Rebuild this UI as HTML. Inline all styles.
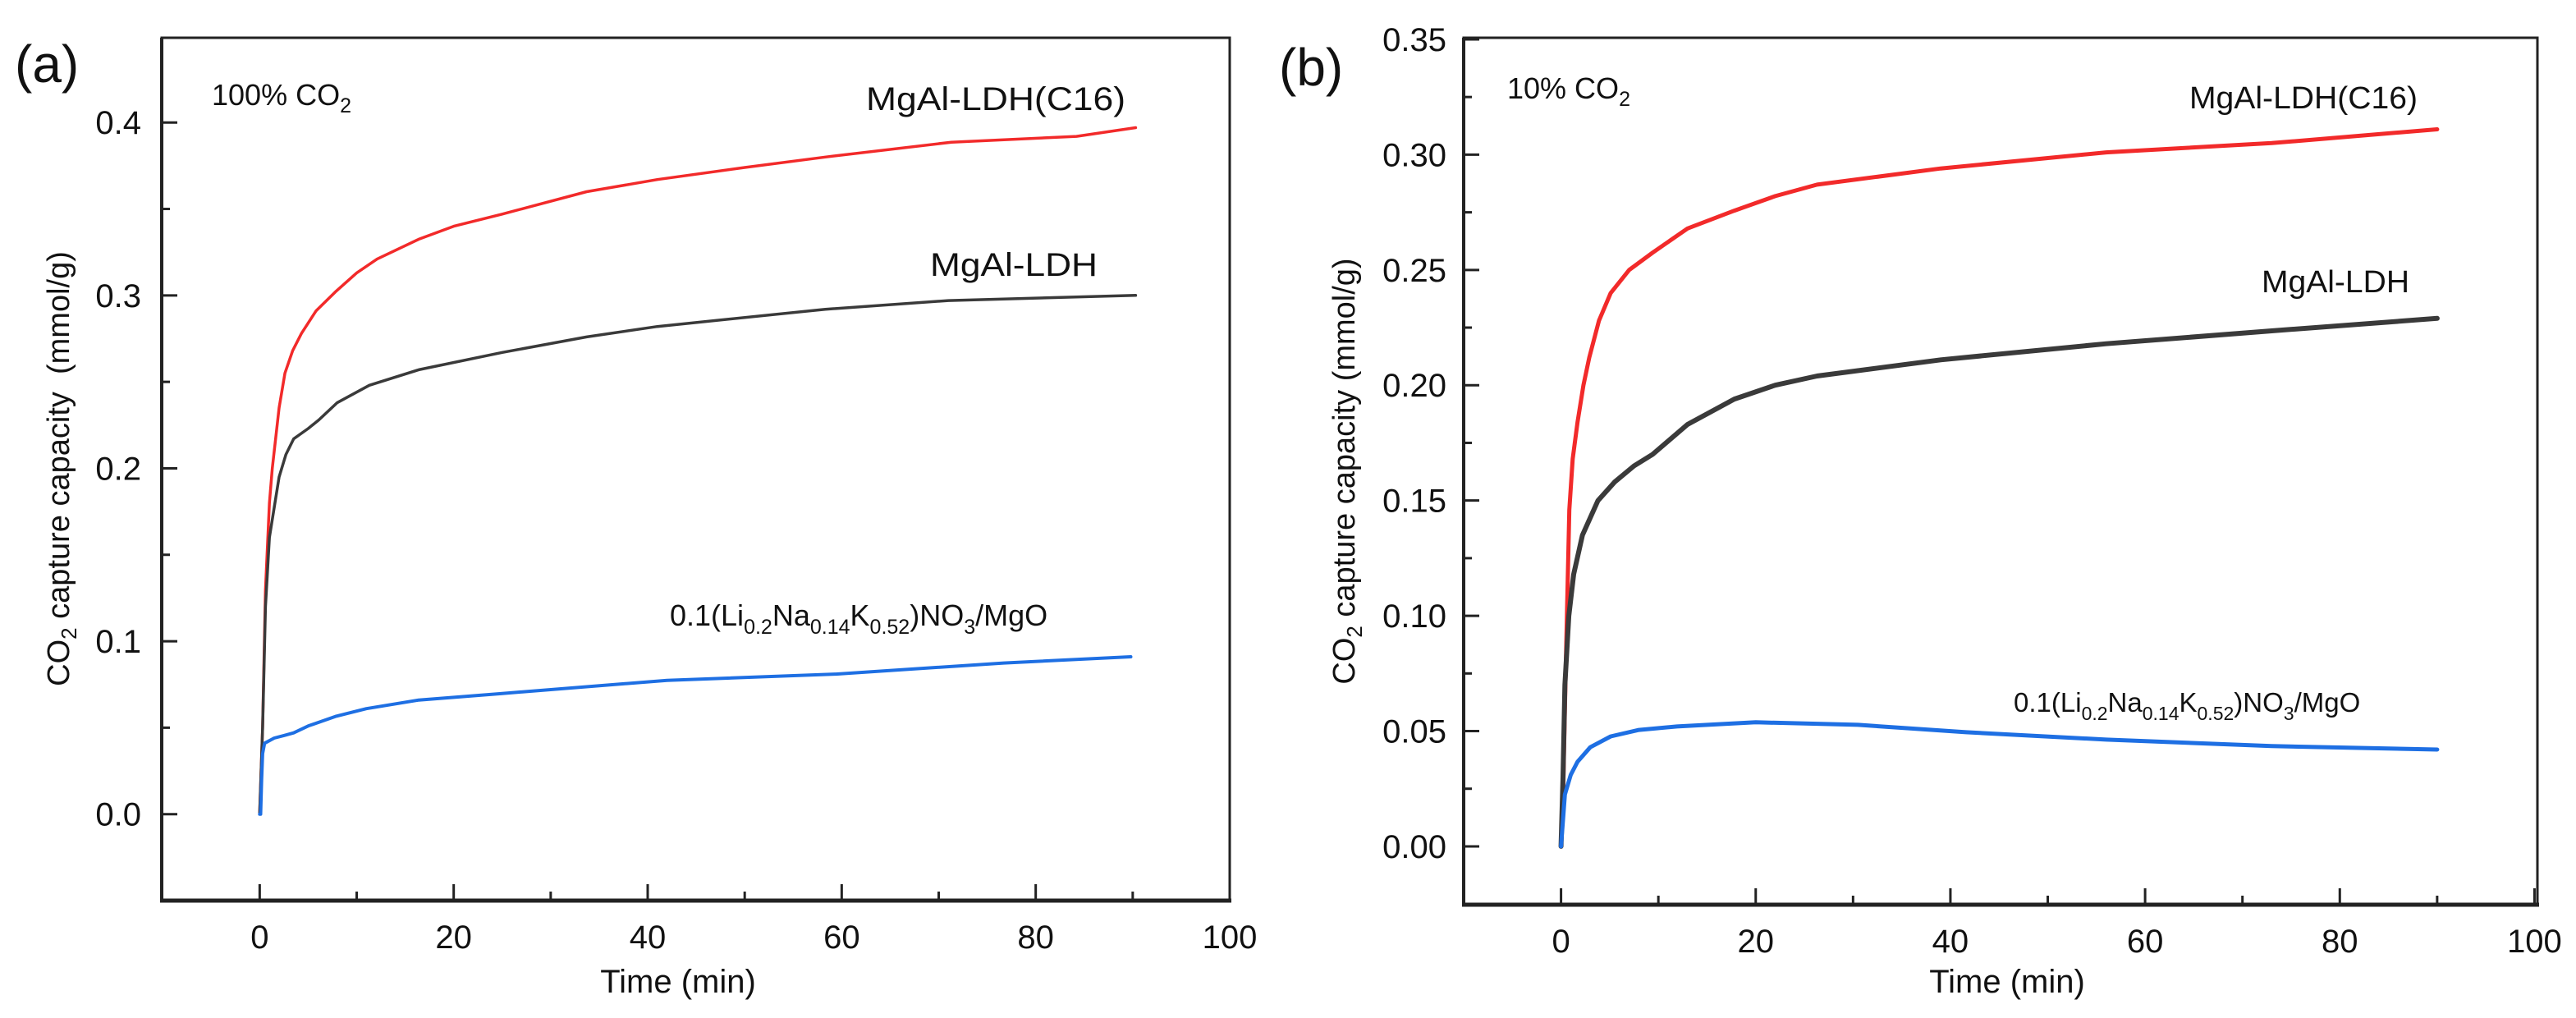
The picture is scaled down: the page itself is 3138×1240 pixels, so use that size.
<!DOCTYPE html>
<html><head><meta charset="utf-8"><style>
html,body{margin:0;padding:0;background:#fff;}
svg{display:block;}
text{font-family:"Liberation Sans",sans-serif;fill:#111;}
.tk{font-family:"Liberation Sans Narrow","Liberation Sans",sans-serif;font-size:40px;}
</style></head><body>
<svg id="chart" width="3138" height="1240" viewBox="0 0 3138 1240" xmlns="http://www.w3.org/2000/svg">
<g id="pa"></g>
<g id="pb"></g>
</svg>
<script>
// ---- Panel (a) data: 100% CO2 ----
const aRedT   = [0,0.3,0.6,1.0,1.3,2.0,2.6,3.4,4.3,5.8,7.8,10,12.1,16.4,20,25,33.7,41,50,58.3,71.3,84.2,90.3];
const aRedV   = [0,0.05,0.13,0.18,0.2,0.235,0.255,0.268,0.278,0.291,0.302,0.313,0.321,0.3325,0.34,0.347,0.36,0.367,0.374,0.38,0.3886,0.392,0.397];
const aGrayT  = [0,0.3,0.6,1.0,2.0,2.7,3.5,5.0,6.1,8.0,11.3,16.4,25,33.7,41,58.3,71,90.3];
const aGrayV  = [0,0.05,0.12,0.16,0.195,0.208,0.217,0.223,0.228,0.238,0.248,0.257,0.267,0.276,0.282,0.292,0.297,0.300];
const aBlueT  = [0,0.1,0.2,0.3,0.5,1.5,2.5,3.5,5.0,7.8,11,16.4,25,42,59.4,76.7,89.8];
const aBlueV  = [0,0,0.02,0.035,0.041,0.044,0.0455,0.047,0.051,0.0565,0.061,0.066,0.0698,0.0774,0.081,0.0874,0.091];
const aYTicks = [0.0,0.1,0.2,0.3,0.4];
const aYTickLabels = ["0.0","0.1","0.2","0.3","0.4"];
const aYMinor = [0.05,0.15,0.25,0.35];
// ---- Panel (b) data: 10% CO2 ----
const bRedT   = [0,0.2,0.5,0.85,1.2,1.7,2.3,2.9,3.9,5.1,7,9.4,13,17.8,22,26.3,39,56,73,90];
const bRedV   = [0,0.02,0.08,0.146,0.168,0.184,0.2,0.212,0.228,0.240,0.25,0.2575,0.268,0.2757,0.282,0.287,0.294,0.301,0.305,0.311];
const bGrayT  = [0,0.2,0.4,0.8,1.3,2.2,3.8,5.5,7.5,9.4,13,17.8,22,26.3,39,56,73,90];
const bGrayV  = [0,0.03,0.07,0.1,0.118,0.135,0.150,0.158,0.165,0.170,0.183,0.194,0.2,0.204,0.211,0.218,0.2236,0.229];
const bBlueT  = [0,0.4,1.0,1.7,3.0,5.1,8,11.9,20,30.5,41.6,56,73,90];
const bBlueV  = [0,0.0225,0.031,0.0367,0.043,0.0477,0.0505,0.052,0.0538,0.0527,0.0495,0.0463,0.0435,0.042];
const bYTicks = [0.00,0.05,0.10,0.15,0.20,0.25,0.30,0.35];
const bYTickLabels = ["0.00","0.05","0.10","0.15","0.20","0.25","0.30","0.35"];
const bYMinor = [0.025,0.075,0.125,0.175,0.225,0.275,0.325];
// ---- shared x axis ----
const xTicks = [0,20,40,60,80,100];
const xTickLabels = ["0","20","40","60","80","100"];
const xMinor = [10,30,50,70,90];

const NS="http://www.w3.org/2000/svg";
function mk(parent,tag,attrs){const e=document.createElementNS(NS,tag);for(const k in attrs)e.setAttribute(k,attrs[k]);parent.appendChild(e);return e;}

function panel(g,cfg){
  const L=cfg.L,R=cfg.R,T=cfg.T,B=cfg.B;
  const xs=v=>L+(v-cfg.x0)/(cfg.x1-cfg.x0)*(R-L);
  const ys=v=>B-(v-cfg.y0)/(cfg.y1-cfg.y0)*(B-T);
  const fr=mk(g,'rect',{x:L,y:T,width:R-L,height:B-T,fill:'none',stroke:'#222','stroke-width':3});
  
  
  const bx=mk(g,'line',{x1:L-2,x2:R+2,y1:B,y2:B,stroke:'#222','stroke-width':5});
  
  
  const lx=mk(g,'line',{x1:L,x2:L,y1:T,y2:B,stroke:'#222','stroke-width':4});
  
  
  xTicks.forEach((v,i)=>{
    const t=mk(g,'line',{x1:xs(v),x2:xs(v),y1:B,y2:B-20,stroke:'#222','stroke-width':3});
    
    
    const lb=mk(g,'text',{x:xs(v),y:cfg.xLabY,'text-anchor':'middle',class:'tk'});
    lb.textContent=xTickLabels[i];
    
    
  });
  xMinor.forEach(v=>{
    const t=mk(g,'line',{x1:xs(v),x2:xs(v),y1:B,y2:B-11,stroke:'#222','stroke-width':3});
    
    
  });
  cfg.yTicks.forEach((v,i)=>{
    const t=mk(g,'line',{x1:L,x2:L+19,y1:ys(v),y2:ys(v),stroke:'#222','stroke-width':3});
    
    
    const lb=mk(g,'text',{x:cfg.yLabX,y:ys(v)+14,'text-anchor':'end',class:'tk'});
    lb.textContent=cfg.yTickLabels[i];
    
    
  });
  cfg.yMinor.forEach(v=>{
    const t=mk(g,'line',{x1:L,x2:L+10,y1:ys(v),y2:ys(v),stroke:'#222','stroke-width':3});
    
    
  });
  cfg.series.forEach(s=>{
    let d='';
    s.t.forEach((tv,i)=>{d+=(i?'L':'M')+xs(tv).toFixed(1)+','+ys(s.v[i]).toFixed(1);});
    const p=mk(g,'path',{d:d,fill:'none',stroke:s.color,'stroke-width':s.w,'stroke-linejoin':'round','stroke-linecap':'round'});
    
    
  });
}

panel(document.getElementById('pa'),{L:197,R:1498,T:46,B:1097,x0:-10.1,x1:100,y0:-0.05,y1:0.449,
  xLabY:1155,yLabX:172,yTicks:aYTicks,yTickLabels:aYTickLabels,yMinor:aYMinor,
  series:[{t:aRedT,v:aRedV,color:'#f22a2a',w:3.5,name:'series-a-mgal-ldh-c16'},
          {t:aGrayT,v:aGrayV,color:'#3a3a3a',w:3.5,name:'series-a-mgal-ldh'},
          {t:aBlueT,v:aBlueV,color:'#1e6fe3',w:4,name:'series-a-nitrate-mgo'}]});
panel(document.getElementById('pb'),{L:1783,R:3091,T:46,B:1102,x0:-10,x1:100.3,y0:-0.0253,y1:0.3507,
  xLabY:1160,yLabX:1762,yTicks:bYTicks,yTickLabels:bYTickLabels,yMinor:bYMinor,
  series:[{t:bRedT,v:bRedV,color:'#f22a2a',w:5,name:'series-b-mgal-ldh-c16'},
          {t:bGrayT,v:bGrayV,color:'#3a3a3a',w:6,name:'series-b-mgal-ldh'},
          {t:bBlueT,v:bBlueV,color:'#1e6fe3',w:5,name:'series-b-nitrate-mgo'}]});
</script>
<svg width="3138" height="1240" style="position:absolute;left:0;top:0" xmlns="http://www.w3.org/2000/svg">
<text x="18" y="100" font-size="64">(a)</text>
<text x="1558" y="104" font-size="64">(b)</text>
<text x="258" y="128" font-size="36">100% CO<tspan font-size="25" dy="9">2</tspan></text>
<text x="1836" y="120" font-size="36">10% CO<tspan font-size="25" dy="9">2</tspan></text>
<text x="1055" y="134" font-size="40" textLength="316" lengthAdjust="spacingAndGlyphs">MgAl-LDH(C16)</text>
<text x="1133" y="336" font-size="40" textLength="204" lengthAdjust="spacingAndGlyphs">MgAl-LDH</text>
<text x="816" y="762" font-size="36">0.1(Li<tspan font-size="25" dy="10">0.2</tspan><tspan dy="-10">Na</tspan><tspan font-size="25" dy="10">0.14</tspan><tspan dy="-10">K</tspan><tspan font-size="25" dy="10">0.52</tspan><tspan dy="-10">)NO</tspan><tspan font-size="25" dy="10">3</tspan><tspan dy="-10">/MgO</tspan></text>
<text x="2667" y="132" font-size="38" textLength="278" lengthAdjust="spacingAndGlyphs">MgAl-LDH(C16)</text>
<text x="2755" y="356" font-size="38" textLength="180" lengthAdjust="spacingAndGlyphs">MgAl-LDH</text>
<text x="2453" y="867" font-size="33">0.1(Li<tspan font-size="23" dy="10">0.2</tspan><tspan dy="-10">Na</tspan><tspan font-size="23" dy="10">0.14</tspan><tspan dy="-10">K</tspan><tspan font-size="23" dy="10">0.52</tspan><tspan dy="-10">)NO</tspan><tspan font-size="23" dy="10">3</tspan><tspan dy="-10">/MgO</tspan></text>
<text x="826" y="1209" font-size="40" text-anchor="middle">Time (min)</text>
<text x="2445" y="1209" font-size="40" text-anchor="middle">Time (min)</text>
<text transform="translate(84,571) rotate(-90)" font-size="38" text-anchor="middle">CO<tspan font-size="26" dy="9">2</tspan><tspan dy="-9" xml:space="preserve"> capture capacity  (mmol/g)</tspan></text>
<text transform="translate(1650,574) rotate(-90)" font-size="38" text-anchor="middle">CO<tspan font-size="26" dy="9">2</tspan><tspan dy="-9"> capture capacity (mmol/g)</tspan></text>
</svg>
</body></html>
